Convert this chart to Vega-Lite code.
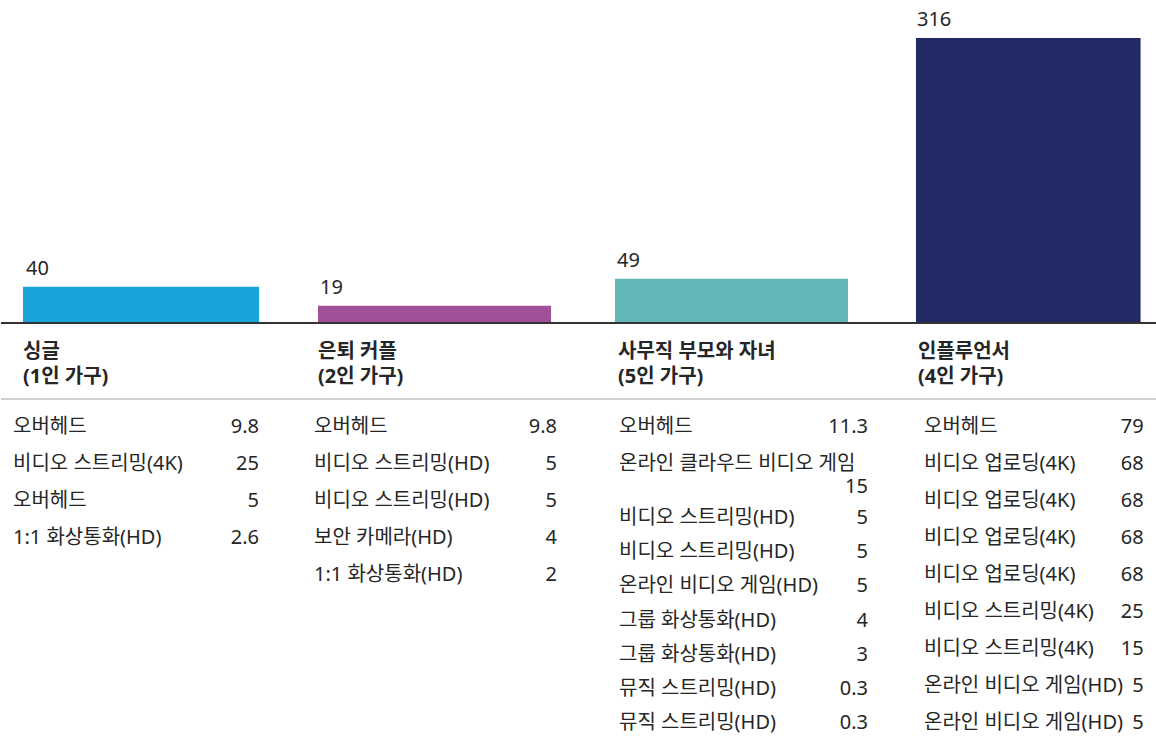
{
  "$schema": "https://vega.github.io/schema/vega-lite/v6.json",
  "padding": 0,
  "spacing": 0,
  "bounds": "flush",
  "background": "white",
  "config": {
    "view": {"stroke": null},
    "concat": {"spacing": 0},
    "text": {"font": "'Noto Sans', 'Noto Sans CJK KR'", "color": "#262626", "fontSize": 20}
  },
  "datasets": {
    "households": [
      {"household": "싱글", "label1": "싱글", "label2": "(1인 가구)", "total": 40},
      {"household": "은퇴 커플", "label1": "은퇴 커플", "label2": "(2인 가구)", "total": 19},
      {"household": "사무직 부모와 자녀", "label1": "사무직 부모와 자녀", "label2": "(5인 가구)", "total": 49},
      {"household": "인플루언서", "label1": "인플루언서", "label2": "(4인 가구)", "total": 316}
    ],
    "items": [
      {"household": "싱글", "row": 1, "item": "오버헤드", "value": 9.8},
      {"household": "싱글", "row": 2, "item": "비디오 스트리밍(4K)", "value": 25},
      {"household": "싱글", "row": 3, "item": "오버헤드", "value": 5},
      {"household": "싱글", "row": 4, "item": "1:1 화상통화(HD)", "value": 2.6},
      {"household": "은퇴 커플", "row": 1, "item": "오버헤드", "value": 9.8},
      {"household": "은퇴 커플", "row": 2, "item": "비디오 스트리밍(HD)", "value": 5},
      {"household": "은퇴 커플", "row": 3, "item": "비디오 스트리밍(HD)", "value": 5},
      {"household": "은퇴 커플", "row": 4, "item": "보안 카메라(HD)", "value": 4},
      {"household": "은퇴 커플", "row": 5, "item": "1:1 화상통화(HD)", "value": 2},
      {"household": "사무직 부모와 자녀", "row": 1, "item": "오버헤드", "value": 11.3},
      {"household": "사무직 부모와 자녀", "row": 2, "item": "온라인 클라우드 비디오 게임", "value": 15},
      {"household": "사무직 부모와 자녀", "row": 3, "item": "비디오 스트리밍(HD)", "value": 5},
      {"household": "사무직 부모와 자녀", "row": 4, "item": "비디오 스트리밍(HD)", "value": 5},
      {"household": "사무직 부모와 자녀", "row": 5, "item": "온라인 비디오 게임(HD)", "value": 5},
      {"household": "사무직 부모와 자녀", "row": 6, "item": "그룹 화상통화(HD)", "value": 4},
      {"household": "사무직 부모와 자녀", "row": 7, "item": "그룹 화상통화(HD)", "value": 3},
      {"household": "사무직 부모와 자녀", "row": 8, "item": "뮤직 스트리밍(HD)", "value": 0.3},
      {"household": "사무직 부모와 자녀", "row": 9, "item": "뮤직 스트리밍(HD)", "value": 0.3},
      {"household": "인플루언서", "row": 1, "item": "오버헤드", "value": 79},
      {"household": "인플루언서", "row": 2, "item": "비디오 업로딩(4K)", "value": 68},
      {"household": "인플루언서", "row": 3, "item": "비디오 업로딩(4K)", "value": 68},
      {"household": "인플루언서", "row": 4, "item": "비디오 업로딩(4K)", "value": 68},
      {"household": "인플루언서", "row": 5, "item": "비디오 업로딩(4K)", "value": 68},
      {"household": "인플루언서", "row": 6, "item": "비디오 스트리밍(4K)", "value": 25},
      {"household": "인플루언서", "row": 7, "item": "비디오 스트리밍(4K)", "value": 15},
      {"household": "인플루언서", "row": 8, "item": "온라인 비디오 게임(HD)", "value": 5},
      {"household": "인플루언서", "row": 9, "item": "온라인 비디오 게임(HD)", "value": 5}
    ]
  },
  "hconcat": [
    {
      "width": 297, "height": 736,
      "layer": [
        {
          "data": {"name": "households"},
          "transform": [{"filter": "datum.household === '싱글'"}],
          "encoding": {"x": {"field": "household", "type": "nominal", "axis": null, "scale": {"paddingInner": 0, "paddingOuter": 0.1292, "align": 0.3607}}},
          "layer": [
            {"mark": {"type": "bar", "color": "#19A3DB"},
             "encoding": {"y": {"field": "total", "type": "quantitative", "axis": null, "scale": {"domain": [-458, 358], "nice": false, "zero": false}}, "y2": {"datum": 0}}},
            {"mark": {"type": "text", "align": "left", "baseline": "middle", "dx": 3, "dy": -18},
             "encoding": {"x": {"field": "household", "type": "nominal", "bandPosition": 0}, "y": {"field": "total", "type": "quantitative"}, "text": {"field": "total", "type": "nominal"}}},
            {"mark": {"type": "text", "align": "left", "baseline": "middle", "dx": 0, "dy": 29, "fontWeight": "bold"},
             "encoding": {"x": {"field": "household", "type": "nominal", "bandPosition": 0}, "y": {"datum": 0}, "text": {"field": "label1", "type": "nominal"}}},
            {"mark": {"type": "text", "align": "left", "baseline": "middle", "dx": 0, "dy": 54, "fontWeight": "bold"},
             "encoding": {"x": {"field": "household", "type": "nominal", "bandPosition": 0}, "y": {"datum": 0}, "text": {"field": "label2", "type": "nominal"}}},
            {"mark": {"type": "rule", "color": "#333333", "strokeWidth": 2}, "encoding": {"y": {"datum": 0}, "x": null}},
            {"mark": {"type": "rule", "color": "#d0d0d0", "strokeWidth": 2}, "encoding": {"y": {"datum": -84.4}, "x": null}}
          ]
        },
        {
          "data": {"name": "items"},
          "transform": [{"filter": "datum.household === '싱글'"}],
          "encoding": {
            "x": {"field": "household", "type": "nominal", "axis": null, "scale": {"paddingInner": 0, "paddingOuter": 0.1292, "align": 0.3607}},
            "y": {"field": "row", "type": "quantitative", "axis": null, "scale": {"domain": [-10.541, 9.351], "reverse": true, "nice": false, "zero": false}}
          },
          "layer": [
            {"mark": {"type": "text", "align": "left", "baseline": "middle", "dx": -10},
             "encoding": {"x": {"field": "household", "type": "nominal", "bandPosition": 0}, "text": {"field": "item", "type": "nominal"}}},
            {"mark": {"type": "text", "align": "right", "baseline": "middle", "dx": 0},
             "encoding": {"x": {"field": "household", "type": "nominal", "bandPosition": 1}, "text": {"field": "value", "type": "nominal"}}}
          ]
        }
      ],
      "resolve": {"scale": {"y": "independent"}}
    },
    {
      "width": 297, "height": 736,
      "layer": [
        {
          "data": {"name": "households"},
          "transform": [{"filter": "datum.household === '은퇴 커플'"}],
          "encoding": {"x": {"field": "household", "type": "nominal", "axis": null, "scale": {"paddingInner": 0, "paddingOuter": 0.1373, "align": 0.3125}}},
          "layer": [
            {"mark": {"type": "bar", "color": "#A14F99"},
             "encoding": {"y": {"field": "total", "type": "quantitative", "axis": null, "scale": {"domain": [-458, 358], "nice": false, "zero": false}}, "y2": {"datum": 0}}},
            {"mark": {"type": "text", "align": "left", "baseline": "middle", "dx": 2, "dy": -18},
             "encoding": {"x": {"field": "household", "type": "nominal", "bandPosition": 0}, "y": {"field": "total", "type": "quantitative"}, "text": {"field": "total", "type": "nominal"}}},
            {"mark": {"type": "text", "align": "left", "baseline": "middle", "dx": 0, "dy": 29, "fontWeight": "bold"},
             "encoding": {"x": {"field": "household", "type": "nominal", "bandPosition": 0}, "y": {"datum": 0}, "text": {"field": "label1", "type": "nominal"}}},
            {"mark": {"type": "text", "align": "left", "baseline": "middle", "dx": 0, "dy": 54, "fontWeight": "bold"},
             "encoding": {"x": {"field": "household", "type": "nominal", "bandPosition": 0}, "y": {"datum": 0}, "text": {"field": "label2", "type": "nominal"}}},
            {"mark": {"type": "rule", "color": "#333333", "strokeWidth": 2}, "encoding": {"y": {"datum": 0}, "x": null}},
            {"mark": {"type": "rule", "color": "#d0d0d0", "strokeWidth": 2}, "encoding": {"y": {"datum": -84.4}, "x": null}}
          ]
        },
        {
          "data": {"name": "items"},
          "transform": [{"filter": "datum.household === '은퇴 커플'"}],
          "encoding": {
            "x": {"field": "household", "type": "nominal", "axis": null, "scale": {"paddingInner": 0, "paddingOuter": 0.1373, "align": 0.3125}},
            "y": {"field": "row", "type": "quantitative", "axis": null, "scale": {"domain": [-10.541, 9.351], "reverse": true, "nice": false, "zero": false}}
          },
          "layer": [
            {"mark": {"type": "text", "align": "left", "baseline": "middle", "dx": -4},
             "encoding": {"x": {"field": "household", "type": "nominal", "bandPosition": 0}, "text": {"field": "item", "type": "nominal"}}},
            {"mark": {"type": "text", "align": "right", "baseline": "middle", "dx": 6},
             "encoding": {"x": {"field": "household", "type": "nominal", "bandPosition": 1}, "text": {"field": "value", "type": "nominal"}}}
          ]
        }
      ],
      "resolve": {"scale": {"y": "independent"}}
    },
    {
      "width": 301, "height": 736,
      "layer": [
        {
          "data": {"name": "households"},
          "transform": [{"filter": "datum.household === '사무직 부모와 자녀'"}],
          "encoding": {"x": {"field": "household", "type": "nominal", "axis": null, "scale": {"paddingInner": 0, "paddingOuter": 0.1459, "align": 0.2941}}},
          "layer": [
            {"mark": {"type": "bar", "color": "#61B8B7"},
             "encoding": {"y": {"field": "total", "type": "quantitative", "axis": null, "scale": {"domain": [-458, 358], "nice": false, "zero": false}}, "y2": {"datum": 0}}},
            {"mark": {"type": "text", "align": "left", "baseline": "middle", "dx": 2, "dy": -18},
             "encoding": {"x": {"field": "household", "type": "nominal", "bandPosition": 0}, "y": {"field": "total", "type": "quantitative"}, "text": {"field": "total", "type": "nominal"}}},
            {"mark": {"type": "text", "align": "left", "baseline": "middle", "dx": 3, "dy": 29, "fontWeight": "bold"},
             "encoding": {"x": {"field": "household", "type": "nominal", "bandPosition": 0}, "y": {"datum": 0}, "text": {"field": "label1", "type": "nominal"}}},
            {"mark": {"type": "text", "align": "left", "baseline": "middle", "dx": 3, "dy": 54, "fontWeight": "bold"},
             "encoding": {"x": {"field": "household", "type": "nominal", "bandPosition": 0}, "y": {"datum": 0}, "text": {"field": "label2", "type": "nominal"}}},
            {"mark": {"type": "rule", "color": "#333333", "strokeWidth": 2}, "encoding": {"y": {"datum": 0}, "x": null}},
            {"mark": {"type": "rule", "color": "#d0d0d0", "strokeWidth": 2}, "encoding": {"y": {"datum": -84.4}, "x": null}}
          ]
        },
        {
          "data": {"name": "items"},
          "transform": [{"filter": "datum.household === '사무직 부모와 자녀' && datum.row <= 2"}],
          "encoding": {
            "x": {"field": "household", "type": "nominal", "axis": null, "scale": {"paddingInner": 0, "paddingOuter": 0.1459, "align": 0.2941}},
            "y": {"field": "row", "type": "quantitative", "axis": null, "scale": {"domain": [-10.541, 9.351], "reverse": true, "nice": false, "zero": false}}
          },
          "layer": [
            {"mark": {"type": "text", "align": "left", "baseline": "middle", "dx": 4},
             "encoding": {"x": {"field": "household", "type": "nominal", "bandPosition": 0}, "text": {"field": "item", "type": "nominal"}}},
            {"transform": [{"filter": "datum.row === 1"}],
             "mark": {"type": "text", "align": "right", "baseline": "middle", "dx": 20},
             "encoding": {"x": {"field": "household", "type": "nominal", "bandPosition": 1}, "text": {"field": "value", "type": "nominal"}}},
            {"transform": [{"filter": "datum.row === 2"}],
             "mark": {"type": "text", "align": "right", "baseline": "middle", "dx": 20, "dy": 23},
             "encoding": {"x": {"field": "household", "type": "nominal", "bandPosition": 1}, "text": {"field": "value", "type": "nominal"}}}
          ]
        },
        {
          "data": {"name": "items"},
          "transform": [{"filter": "datum.household === '사무직 부모와 자녀' && datum.row >= 3"}],
          "encoding": {
            "x": {"field": "household", "type": "nominal", "axis": null, "scale": {"paddingInner": 0, "paddingOuter": 0.1459, "align": 0.2941}},
            "y": {"field": "row", "type": "quantitative", "axis": null, "scale": {"domain": [-12.16, 9.38], "reverse": true, "nice": false, "zero": false}}
          },
          "layer": [
            {"mark": {"type": "text", "align": "left", "baseline": "middle", "dx": 4},
             "encoding": {"x": {"field": "household", "type": "nominal", "bandPosition": 0}, "text": {"field": "item", "type": "nominal"}}},
            {"mark": {"type": "text", "align": "right", "baseline": "middle", "dx": 20},
             "encoding": {"x": {"field": "household", "type": "nominal", "bandPosition": 1}, "text": {"field": "value", "type": "nominal"}}}
          ]
        }
      ],
      "resolve": {"scale": {"y": "independent"}}
    },
    {
      "width": 261, "height": 736,
      "layer": [
        {
          "data": {"name": "households"},
          "transform": [{"filter": "datum.household === '인플루언서'"}],
          "encoding": {"x": {"field": "household", "type": "nominal", "axis": null, "scale": {"paddingInner": 0, "paddingOuter": 0.081, "align": 0.549}}},
          "layer": [
            {"mark": {"type": "bar", "color": "#212A65"},
             "encoding": {"y": {"field": "total", "type": "quantitative", "axis": null, "scale": {"domain": [-458, 358], "nice": false, "zero": false}}, "y2": {"datum": 0}}},
            {"mark": {"type": "text", "align": "left", "baseline": "middle", "dx": 1, "dy": -18},
             "encoding": {"x": {"field": "household", "type": "nominal", "bandPosition": 0}, "y": {"field": "total", "type": "quantitative"}, "text": {"field": "total", "type": "nominal"}}},
            {"mark": {"type": "text", "align": "left", "baseline": "middle", "dx": 2, "dy": 29, "fontWeight": "bold"},
             "encoding": {"x": {"field": "household", "type": "nominal", "bandPosition": 0}, "y": {"datum": 0}, "text": {"field": "label1", "type": "nominal"}}},
            {"mark": {"type": "text", "align": "left", "baseline": "middle", "dx": 2, "dy": 54, "fontWeight": "bold"},
             "encoding": {"x": {"field": "household", "type": "nominal", "bandPosition": 0}, "y": {"datum": 0}, "text": {"field": "label2", "type": "nominal"}}},
            {"mark": {"type": "rule", "color": "#333333", "strokeWidth": 2}, "encoding": {"y": {"datum": 0}, "x": null}},
            {"mark": {"type": "rule", "color": "#d0d0d0", "strokeWidth": 2}, "encoding": {"y": {"datum": -84.4}, "x": null}}
          ]
        },
        {
          "data": {"name": "items"},
          "transform": [{"filter": "datum.household === '인플루언서'"}],
          "encoding": {
            "x": {"field": "household", "type": "nominal", "axis": null, "scale": {"paddingInner": 0, "paddingOuter": 0.081, "align": 0.549}},
            "y": {"field": "row", "type": "quantitative", "axis": null, "scale": {"domain": [-10.541, 9.351], "reverse": true, "nice": false, "zero": false}}
          },
          "layer": [
            {"mark": {"type": "text", "align": "left", "baseline": "middle", "dx": 8},
             "encoding": {"x": {"field": "household", "type": "nominal", "bandPosition": 0}, "text": {"field": "item", "type": "nominal"}}},
            {"mark": {"type": "text", "align": "right", "baseline": "middle", "dx": 3},
             "encoding": {"x": {"field": "household", "type": "nominal", "bandPosition": 1}, "text": {"field": "value", "type": "nominal"}}}
          ]
        }
      ],
      "resolve": {"scale": {"y": "independent"}}
    }
  ],
  "resolve": {"scale": {"x": "independent", "y": "independent"}}
}
